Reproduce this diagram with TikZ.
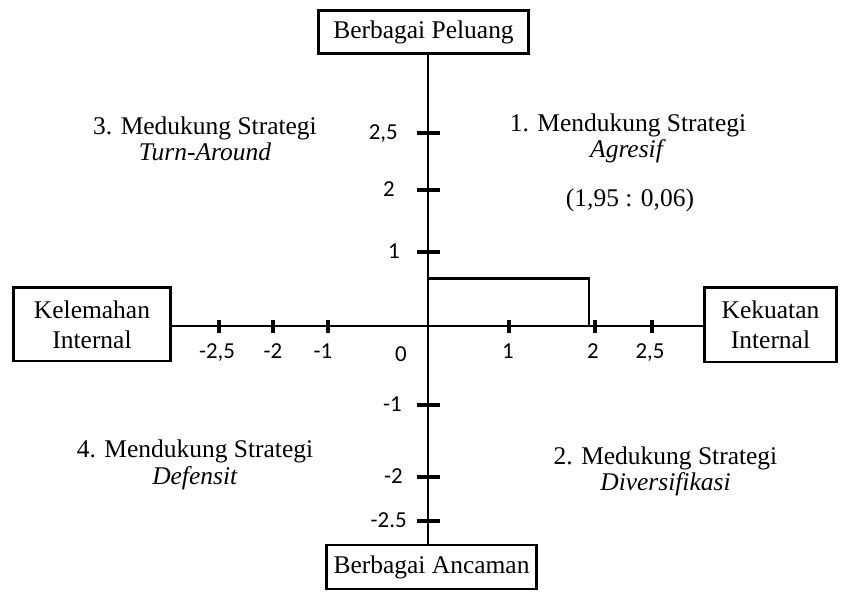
\documentclass[tikz,border=0pt]{standalone}
\usepackage{fontspec}
\setmainfont{Liberation Serif}
\newfontfamily\angkafont{Carlito}

\tikzset{
	kotak/.style={draw, line width=1.7pt, inner sep=0pt, align=center, font=\fontsize{14.5}{17}\selectfont},
	sumbu/.style={line width=1.7pt},
	garis/.style={line width=2.6pt},
	angka/.style={font=\angkafont\fontsize{13}{13}\selectfont, inner sep=0pt, text height=1.6ex, text depth=0.5ex},
	kuadran/.style={align=center, inner sep=0pt, font=\fontsize{14.5}{15}\selectfont},
}

\begin{document}
\begin{tikzpicture}
	\useasboundingbox (-8.56,-5.32) rectangle (8.4,6.52);
	\coordinate (o) at (0,0);
	% kotak di ujung sumbu
	\node[kotak, minimum width=4.2cm, minimum height=0.86cm] (peluang) at (-0.09,5.87) {Berbagai Peluang};
	\node[kotak, minimum width=4.2cm, minimum height=0.88cm] (ancaman) at (0.07,-4.82) {Berbagai Ancaman};
	\node[kotak, minimum width=3.15cm, minimum height=1.46cm] (kelemahan) at (-6.72,0.03) {Kelemahan\\Internal};
	\node[kotak, minimum width=2.65cm, minimum height=1.48cm] (kekuatan) at (6.85,0.02) {Kekuatan\\Internal};
	% sumbu
	\draw[sumbu] (peluang.south -| o) -- (ancaman.north -| o);
	\draw[sumbu] (kelemahan.east |- o) -- (kekuatan.west |- o);
	% garis skala vertikal
	\draw[garis] (-0.22, 3.86) -- (0.24, 3.86);
	\draw[garis] (-0.22, 2.72) -- (0.24, 2.72);
	\draw[garis] (-0.22, 1.48) -- (0.24, 1.48);
	\draw[garis] (-0.22, -1.58) -- (0.24, -1.58);
	\draw[garis] (-0.22, -3.02) -- (0.24, -3.02);
	\draw[garis] (-0.22, -3.9) -- (0.24, -3.9);
	% garis skala horizontal
	\draw[garis] (-4.18, 0.12) -- (-4.18, -0.14);
	\draw[garis] (-3.1, 0.12) -- (-3.1, -0.14);
	\draw[garis] (-2.0, 0.12) -- (-2.0, -0.14);
	\draw[garis] (1.62, 0.12) -- (1.62, -0.14);
	\draw[garis] (3.34, 0.12) -- (3.34, -0.14);
	\draw[garis] (4.48, 0.12) -- (4.48, -0.14);
	% titik posisi
	\draw[sumbu] (0, 0.94) -- (3.22, 0.94) -- (3.22, 0);
	% angka skala
	\node[angka, anchor=east] (v25) at (-0.6, 3.82) {2,5};
	\node[angka, anchor=east] (v2) at (-0.66, 2.68) {2};
	\node[angka, anchor=east] (v1) at (-0.56, 1.44) {1};
	\node[angka, anchor=east] (v0) at (-0.42, -0.62) {0};
	\node[angka, anchor=east] (vm1) at (-0.52, -1.62) {-1};
	\node[angka, anchor=east] (vm2) at (-0.5, -3.06) {-2};
	\node[angka, anchor=east] (vm25) at (-0.42, -3.94) {-2.5};
	\node[angka] (hm25) at (-4.22, -0.57) {-2,5};
	\node[angka] (hm2) at (-3.1, -0.57) {-2};
	\node[angka] (hm1) at (-2.1, -0.57) {-1};
	\node[angka] (h1) at (1.6, -0.57) {1};
	\node[angka] (h2) at (3.3, -0.57) {2};
	\node[angka] (h25) at (4.44, -0.57) {2,5};
	% kuadran
	\node[kuadran] (agresif) at (4.0, 3.75) {1. Mendukung Strategi\\\textit{Agresif}};
	\node[kuadran] (nilai) at (4.04, 2.52) {(1,95 : 0,06)};
	\node[kuadran] (diversifikasi) at (4.75, -2.91) {2. Medukung Strategi\\\textit{Diversifikasi}};
	\node[kuadran] (turnaround) at (-4.46, 3.74) {3. Medukung Strategi\\\textit{Turn-Around}};
	\node[kuadran] (defensif) at (-4.66, -2.78) {4. Mendukung Strategi\\\textit{Defensit}};
\end{tikzpicture}
\end{document}
